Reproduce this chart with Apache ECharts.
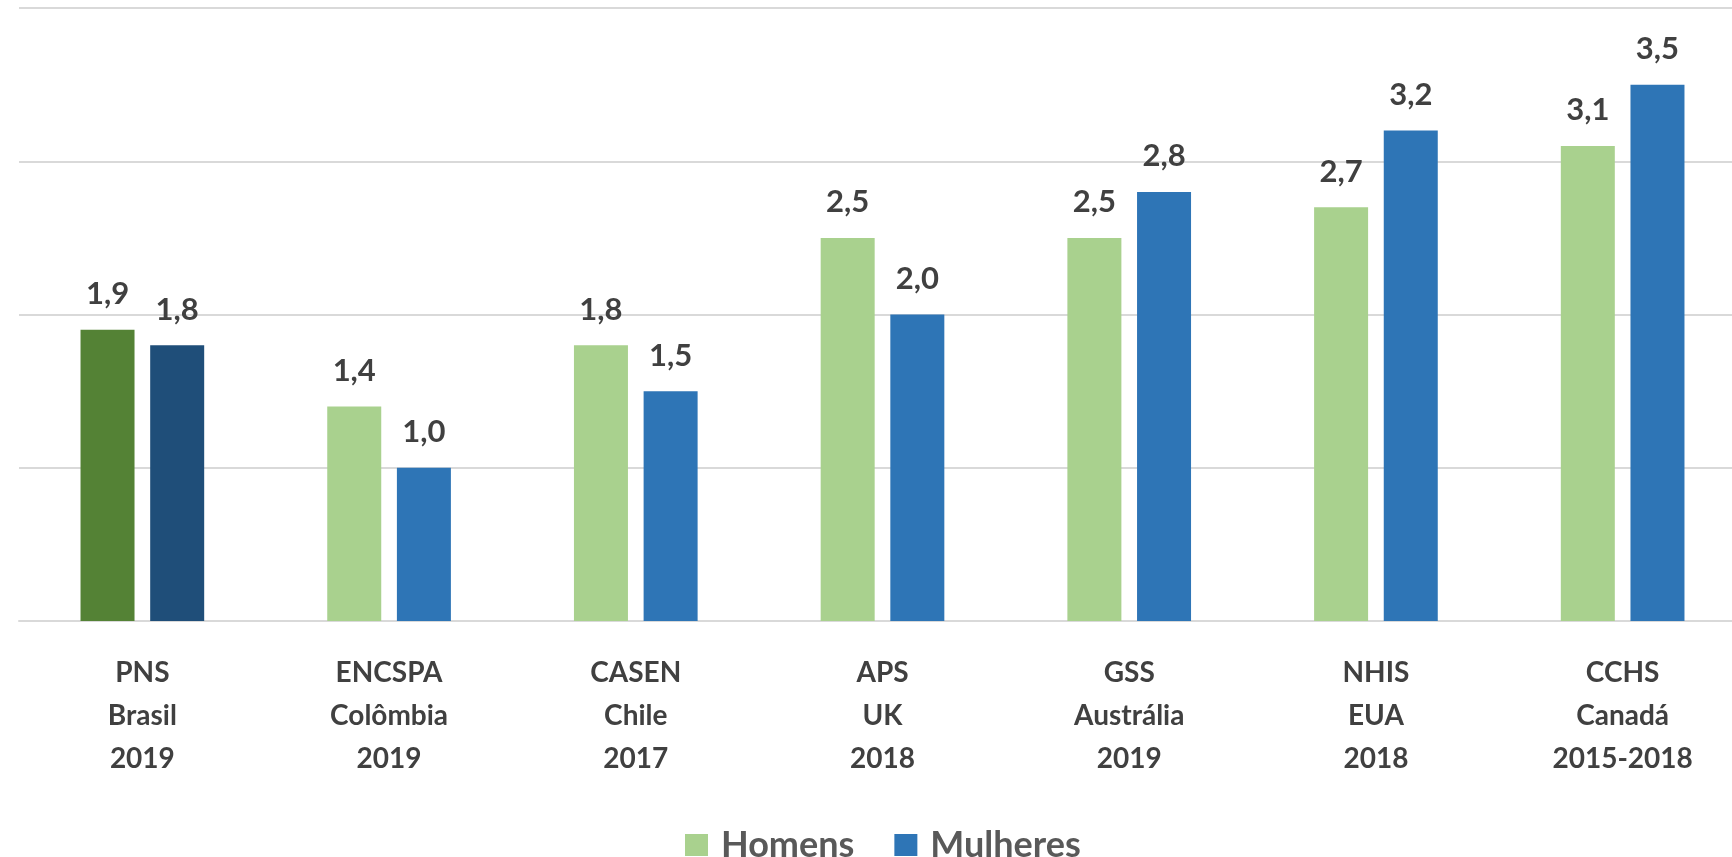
<!DOCTYPE html>
<html>
<head>
<meta charset="utf-8">
<script src="https://cdn.jsdelivr.net/npm/echarts@6/dist/echarts.min.js"></script>
<style>
  html, body { margin: 0; padding: 0; background: #fff; overflow: hidden; }
  /* um pouco mais largo que a janela: a última categoria é cortada pela borda direita */
  #chart { width: 1750px; height: 857px; }
</style>
</head>
<body>
<div id="chart"></div>
<script>
// categorias (pesquisa / país / ano)
const categories = [
    'PNS\nBrasil\n2019',
    'ENCSPA\nColômbia\n2019',
    'CASEN\nChile\n2017',
    'APS\nUK\n2018',
    'GSS\nAustrália\n2019',
    'NHIS\nEUA\n2018',
    'CCHS\nCanadá\n2015-2018'
];
const homens = [1.9, 1.4, 1.8, 2.5, 2.5, 2.7, 3.1];
const mulheres = [1.8, 1.0, 1.5, 2.0, 2.8, 3.2, 3.5];
const legendNames = ['Homens', 'Mulheres'];

// Brasil em destaque (cores mais escuras)
const corHomens = '#A9D18E', corHomensBr = '#548235';
const corMulheres = '#2E75B6', corMulheresBr = '#1F4E79';

const fmt = p => p.value.toFixed(1).replace('.', ',');

const toData = (arr, destaque) => arr.map((v, i) => i === 0
    ? { value: v, itemStyle: { color: destaque } }
    : v);

const labelStyle = {
    show: true,
    position: 'top',
    distance: 20,
    formatter: fmt,
    color: '#404040',
    fontFamily: 'Lato',
    fontWeight: 'bold',
    fontSize: 31
};

const myChart = echarts.init(document.getElementById('chart'));
const option = {
    animation: false,
    grid: { left: 19, right: 4, top: 8, bottom: 236 },
    legend: {
        data: legendNames,
        left: 680,
        top: 822,
        itemWidth: 23,
        itemHeight: 22,
        itemGap: 40,
        icon: 'rect',
        textStyle: { fontFamily: 'Lato', fontWeight: 'bold', fontSize: 36, color: '#595959', padding: [0, 0, 0, 8] }
    },
    xAxis: {
        type: 'category',
        data: categories,
        axisTick: { show: false },
        axisLine: { lineStyle: { color: '#d9d9d9', width: 2 } },
        axisLabel: {
            margin: 30,
            fontFamily: 'Lato',
            fontWeight: 'bold',
            fontSize: 28,
            lineHeight: 43,
            color: '#404040',
            interval: 0
        }
    },
    yAxis: {
        type: 'value',
        min: 0,
        max: 4,
        interval: 1,
        axisLabel: { show: false },
        axisLine: { show: false },
        axisTick: { show: false },
        splitLine: { lineStyle: { color: '#d9d9d9', width: 2 } }
    },
    series: [
        {
            name: 'Homens',
            type: 'bar',
            barWidth: 54,
            barGap: '29%',
            itemStyle: { color: corHomens },
            label: labelStyle,
            data: toData(homens, corHomensBr)
        },
        {
            name: 'Mulheres',
            type: 'bar',
            barWidth: 54,
            barGap: '29%',
            itemStyle: { color: corMulheres },
            label: labelStyle,
            data: toData(mulheres, corMulheresBr)
        }
    ]
};
myChart.setOption(option);
</script>
</body>
</html>
